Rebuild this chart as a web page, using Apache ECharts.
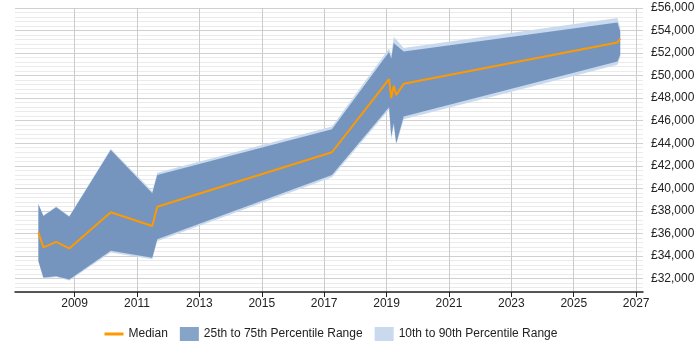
<!DOCTYPE html>
<html>
<head>
<meta charset="utf-8">
<script src="https://cdn.jsdelivr.net/npm/echarts@6/dist/echarts.min.js"></script>
<style>
  html, body { margin: 0; padding: 0; background: #fff; }
  #chart { width: 700px; height: 350px; }
</style>
</head>
<body>
<div id="chart"></div>
<script>
// salary percentiles over time (decimal years)
const years  = [2007.84, 2008.0, 2008.41, 2008.83, 2010.16, 2011.49, 2011.65, 2017.25, 2019.08, 2019.15, 2019.23, 2019.31, 2019.55, 2026.40, 2026.49];
const p10    = [33480, 31980, 32120, 31830, 34300, 33700, 35300, 40980, 47000, 44300, 45500, 43850, 46130, 50960, 51600];
const p25    = [33560, 32090, 32200, 31910, 34450, 33850, 35490, 41180, 47200, 44600, 45800, 44000, 46370, 51250, 51850];
const median = [36090, 34760, 35250, 34670, 37870, 36650, 38360, 43200, 49690, 48000, 49100, 48290, 49270, 52940, 53270];
const p75    = [38580, 37540, 38310, 37480, 43400, 39560, 41180, 45240, 52100, 51500, 52900, 52700, 52150, 54720, 53920];
const p90    = [38650, 37620, 38380, 37550, 43500, 39750, 41390, 45480, 52400, 51800, 53450, 53200, 52450, 55110, 54250];

const yearTicks = [2009, 2011, 2013, 2015, 2017, 2019, 2021, 2023, 2025, 2027];

const DARK = '#7595bf';
const LIGHT = '#c9daee';
const ORANGE = '#ff9900';
const FONT = 'Liberation Sans, Arial, sans-serif';

const chart = echarts.init(document.getElementById('chart'));

// band polygon between two percentile arrays, through the axis scales
function bandSeries(name, lower, upper, color, z) {
    return {
        name: name,
        type: 'custom',
        z: z,
        silent: true,
        itemStyle: { color: color },
        data: [[years[0], lower[0]]],
        renderItem: (params, api) => {
            const top = years.map((x, i) => api.coord([x, upper[i]]));
            const bottom = years.map((x, i) => api.coord([x, lower[i]])).reverse();
            return {
                type: 'polygon',
                shape: { points: top.concat(bottom) },
                style: { fill: color }
            };
        }
    };
}

chart.setOption({
    animation: false,
    textStyle: { fontFamily: FONT },
    grid: { left: 15, right: 57, top: 8, bottom: 58 },
    legend: {
        left: 103,
        top: 327,
        padding: 0,
        itemWidth: 19,
        itemHeight: 14,
        itemGap: 12,
        textStyle: { fontSize: 12, color: '#222', fontFamily: FONT },
        data: [
            { name: 'Median', itemStyle: { color: 'rgba(0,0,0,0)', borderWidth: 0 }, lineStyle: { color: ORANGE, width: 3 } },
            { name: '25th to 75th Percentile Range', icon: 'rect', itemStyle: { color: '#86a3c8' } },
            { name: '10th to 90th Percentile Range', icon: 'rect', itemStyle: { color: LIGHT } }
        ]
    },
    xAxis: {
        type: 'value',
        min: 2007.09,
        max: 2027.22,
        axisLine: { show: true, onZero: false, lineStyle: { color: '#222', width: 1.5 } },
        axisTick: { show: true, customValues: yearTicks, length: 5, lineStyle: { color: '#222' } },
        axisLabel: {
            customValues: yearTicks,
            formatter: v => String(Math.round(v)),
            fontSize: 12,
            color: '#222',
            margin: 6
        },
        splitLine: { show: true, lineStyle: { color: '#cccccc', width: 1 } }
    },
    yAxis: {
        type: 'value',
        position: 'right',
        min: 30800,
        max: 56000,
        interval: 400,
        axisLine: { show: false },
        axisTick: { show: false },
        axisLabel: {
            fontSize: 12,
            color: '#222',
            margin: 8,
            formatter: v => (v % 2000 === 0 ? '£' + v.toLocaleString('en-GB') : '')
        },
        splitLine: {
            show: true,
            lineStyle: { color: ['#ebebeb', '#ebebeb', '#ebebeb', '#d0d0d0', '#ebebeb'], width: 1 }
        }
    },
    series: [
        bandSeries('10th to 90th Percentile Range', p10, p90, LIGHT, 1),
        bandSeries('25th to 75th Percentile Range', p25, p75, DARK, 2),
        {
            name: 'Median',
            type: 'line',
            data: years.map((x, i) => [x, median[i]]),
            symbol: 'none',
            z: 5,
            lineStyle: { color: ORANGE, width: 2 },
            itemStyle: { color: ORANGE }
        }
    ]
});
</script>
</body>
</html>
